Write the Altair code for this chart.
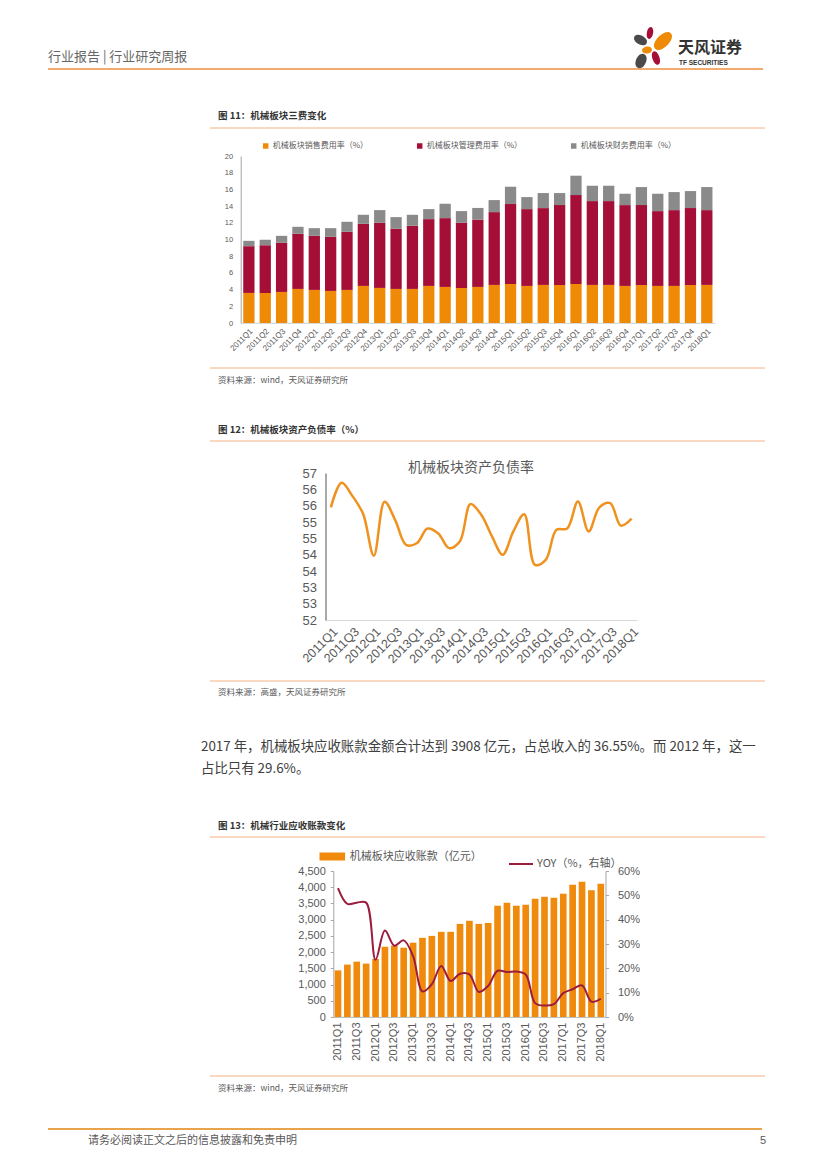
import altair as alt
import pandas as pd

FONT = "Liberation Sans, Noto Sans CJK SC"
CJK = "Noto Sans CJK SC"
GRAY = "#595959"

quarters = ["2011Q1", "2011Q2", "2011Q3", "2011Q4", "2012Q1", "2012Q2", "2012Q3", "2012Q4",
            "2013Q1", "2013Q2", "2013Q3", "2013Q4", "2014Q1", "2014Q2", "2014Q3", "2014Q4",
            "2015Q1", "2015Q2", "2015Q3", "2015Q4", "2016Q1", "2016Q2", "2016Q3", "2016Q4",
            "2017Q1", "2017Q2", "2017Q3", "2017Q4", "2018Q1"]
quarters_every2 = ["2011Q1", "2011Q3", "2012Q1", "2012Q3", "2013Q1", "2013Q3", "2014Q1", "2014Q3",
                   "2015Q1", "2015Q3", "2016Q1", "2016Q3", "2017Q1", "2017Q3", "2018Q1"]

# Figure 11: expense ratios (%)
series11 = ["机械板块销售费用率（%）", "机械板块管理费用率（%）", "机械板块财务费用率（%）"]
colors11 = ["#EF8A06", "#A50E36", "#8A8A8A"]
sales_ratio = [3.60, 3.60, 3.72, 4.08, 3.96, 3.84, 3.96, 4.44, 4.20, 4.08, 4.08, 4.44, 4.32, 4.20, 4.32,
               4.56, 4.68, 4.44, 4.56, 4.56, 4.68, 4.56, 4.56, 4.44, 4.56, 4.44, 4.44, 4.56, 4.56]
mgmt_ratio = [5.60, 5.72, 5.88, 6.60, 6.48, 6.48, 6.96, 7.44, 7.80, 7.20, 7.56, 8.00, 8.24, 7.80, 8.06,
              8.72, 9.56, 9.20, 9.20, 9.56, 10.64, 10.04, 10.04, 9.68, 9.56, 8.96, 9.08, 9.20, 8.96]
fin_ratio = [0.64, 0.64, 0.84, 0.84, 0.92, 1.04, 1.20, 1.08, 1.52, 1.40, 1.32, 1.20, 1.72, 1.40, 1.40,
             1.44, 2.08, 1.44, 1.80, 1.44, 2.32, 1.84, 1.84, 1.36, 2.16, 2.08, 2.16, 2.04, 2.76]
ticks11 = [0, 2, 4, 6, 8, 10, 12, 14, 16, 18, 20]

# Figure 12: debt-to-asset ratio (%)
debt_ratio = [55.45, 56.20, 55.80, 55.25, 53.97, 55.62, 55.05, 54.30, 54.35, 54.80, 54.65, 54.20, 54.40,
              55.55, 55.22, 54.56, 54.00, 54.72, 55.24, 53.69, 53.84, 54.76, 54.80, 55.63, 54.71, 55.45,
              55.58, 54.89, 55.10]
ticks12 = [52.0, 52.5, 53.0, 53.5, 54.0, 54.5, 55.0, 55.5, 56.0, 56.5]

# Figure 13: receivables (100m CNY) and YoY (%)
bar13_name = "机械板块应收账款（亿元）"
line13_name = "YOY（%，右轴）"
receivables = [1437, 1615, 1707, 1645, 1790, 2165, 2200, 2136, 2290, 2440, 2500, 2625, 2625, 2870, 2965,
               2870, 2900, 3430, 3520, 3430, 3460, 3645, 3705, 3675, 3800, 4075, 4165, 3908, 4105]
yoy = [53.0, 46.5, 47.0, 47.0, 23.5, 35.5, 29.3, 31.5, 25.0, 10.5, 13.5, 21.0, 14.8, 17.8, 17.5,
       10.3, 12.8, 19.0, 18.5, 18.7, 17.5, 5.7, 4.7, 5.3, 9.8, 11.4, 13.0, 6.3, 7.5]
ticks13_left = [0, 500, 1000, 1500, 2000, 2500, 3000, 3500, 4000, 4500]
ticks13_right = [0, 10, 20, 30, 40, 50, 60]

# ---------------- page decoration ----------------
one = pd.DataFrame({"v": [0]})
base = alt.Chart(one)
OX, OY = 8, 8  # page origin of the chart


def txt(s, x, y, size, color=GRAY, weight="normal", align="left", font=CJK):
    return base.mark_text(text=s, align=align, baseline="middle", fontSize=size, color=color,
                          fontWeight=weight, font=font).encode(x=alt.value(x - OX), y=alt.value(y - OY))


def hrule(x1, x2, y, color, w):
    return base.mark_rule(color=color, strokeWidth=w).encode(
        x=alt.value(x1 - OX), x2=alt.value(x2 - OX), y=alt.value(y - OY))


def petal(x, y, size, angle, color, c=0.55):
    path = f"M0,-1C{c},-1 {c},1 0,1C-{c},1 -{c},-1 0,-1Z"
    return base.mark_point(shape=path, filled=True, size=size, angle=angle % 360, color=color,
                           opacity=1, strokeWidth=0).encode(x=alt.value(x - OX), y=alt.value(y - OY))


SEC = "#F4B183"
decor = alt.layer(
    txt("行业报告 | 行业研究周报", 48, 57, 13, "#666666"),
    hrule(48, 763, 69, "#EE8F3C", 1.6),
    petal(650, 33, 144, 10, "#A50E36", 0.7),
    petal(640.5, 40, 196, -60, "#4A4A4A", 0.86),
    petal(663, 41, 484, 45, "#EF8A06", 0.73),
    petal(647, 50, 100, 80, "#EF8A06", 0.93),
    petal(641, 61, 225, 25, "#4A4A4A", 0.89),
    petal(656, 58, 196, -20, "#A50E36", 0.67),
    txt("天风证券", 678, 48, 16, "#333333", "bold"),
    txt("TF SECURITIES", 679, 63, 6.5, "#333333", "bold", font=FONT),
    txt("图 11：机械板块三费变化", 218, 116, 9.5, "#333333", "bold"),
    hrule(210, 765, 128, SEC, 1),
    hrule(210, 765, 368, SEC, 1),
    txt("资料来源：wind，天风证券研究所", 218, 380, 8.5),
    txt("图 12：机械板块资产负债率（%）", 218, 430, 9.5, "#333333", "bold"),
    hrule(210, 765, 441, SEC, 1),
    txt("机械板块资产负债率", 471, 468, 14, GRAY, "normal", "center"),
    hrule(210, 765, 681, SEC, 1),
    txt("资料来源：高盛，天风证券研究所", 218, 692, 8.5),
    txt("2017 年，机械板块应收账款金额合计达到 3908 亿元，占总收入的 36.55%。而 2012 年，这一",
        201, 747, 13.4, "#404040"),
    txt("占比只有 29.6%。", 201, 769, 13.4, "#404040"),
    txt("图 13：机械行业应收账款变化", 218, 826, 9.5, "#333333", "bold"),
    hrule(210, 765, 837, SEC, 1),
    hrule(210, 765, 1076, SEC, 1),
    txt("资料来源：wind，天风证券研究所", 218, 1088, 8.5),
    hrule(48, 762, 1129, "#E9A34A", 2.2),
    txt("请务必阅读正文之后的信息披露和免责申明", 88, 1141, 11, "#595959"),
    txt("5", 760, 1141, 11, "#595959", font=FONT),
).properties(width=811, height=148)


def spacer(w, h):
    return base.mark_text(text="").encode(x=alt.value(0), y=alt.value(0)).properties(width=w, height=h)


# plot areas in page pixels: (left, right)
L11, R11 = 240.7, 715.0
L12, R12 = 325.5, 637.0
L13, R13 = 333.3, 605.5

# ---------------- figure 11 ----------------
rows = []
for k, (name, vals) in enumerate(zip(series11, [sales_ratio, mgmt_ratio, fin_ratio])):
    for q, v in zip(quarters, vals):
        rows.append({"q": q, "series": name, "value": v, "ord": k})
df11 = pd.DataFrame(rows)

chart11 = alt.Chart(df11).mark_bar().encode(
    x=alt.X("q:N", sort=quarters, scale=alt.Scale(paddingInner=0.31, range=[L11 - OX, R11 - OX]),
            axis=alt.Axis(title=None, labelAngle=-45, labelFontSize=8, labelColor=GRAY, labelFont=FONT,
                          ticks=False, domainColor="#D9D9D9", labelPadding=4)),
    y=alt.Y("value:Q", stack="zero", scale=alt.Scale(domain=[0, 20], nice=False),
            axis=alt.Axis(title=None, values=ticks11, grid=False, ticks=False, labelFontSize=7.5,
                          labelColor=GRAY, labelFont=FONT, domainColor="#A6A6A6", labelPadding=8,
                          offset=-(L11 - OX))),
    color=alt.Color("series:N", scale=alt.Scale(domain=series11, range=colors11),
                    legend=alt.Legend(title=None, orient="none", legendX=L11 - OX + 21, legendY=-14,
                                      direction="horizontal", symbolType="square", symbolSize=30,
                                      labelFontSize=8, labelColor=GRAY, labelFont=CJK,
                                      columnPadding=47, labelOffset=3)),
    order=alt.Order("ord:Q"),
).properties(width=R11 - OX, height=167)

# ---------------- figure 12 ----------------
df12 = pd.DataFrame({"q": quarters, "v": debt_ratio})
chart12 = alt.Chart(df12).mark_line(interpolate="catmull-rom", color="#EF921F", strokeWidth=2.5).encode(
    x=alt.X("q:O", sort=quarters, scale=alt.Scale(type="point", padding=0.5, range=[L12 - OX, R12 - OX]),
            axis=alt.Axis(title=None, values=quarters_every2, labelAngle=-45, labelFontSize=12.5,
                          labelColor=GRAY, labelFont=FONT, ticks=False, domainColor="#D9D9D9",
                          labelPadding=5)),
    y=alt.Y("v:Q", scale=alt.Scale(domain=[52, 56.5], nice=False, zero=False),
            axis=alt.Axis(title=None, values=ticks12, labelExpr="round(datum.value)", grid=False,
                          ticks=False, labelFontSize=13, labelColor=GRAY, labelFont=FONT,
                          domainColor="#8C8C8C", domainWidth=1.5, labelPadding=9,
                          offset=-(L12 - OX))),
).properties(width=R12 - OX, height=147)

# ---------------- figure 13 ----------------
df13 = pd.DataFrame({"q": quarters, "rec": receivables, "yoy": yoy,
                     "s": [bar13_name] * len(quarters), "s2": [line13_name] * len(quarters)})
xq13 = alt.X("q:N", sort=quarters, scale=alt.Scale(paddingInner=0.29, range=[L13 - OX, R13 - OX]),
             axis=alt.Axis(title=None, values=quarters_every2, labelAngle=-90, labelFontSize=11,
                           labelColor=GRAY, labelFont=FONT, ticks=False, domainColor="#BFBFBF",
                           labelPadding=5))
bars13 = alt.Chart(df13).mark_bar().encode(
    x=xq13,
    y=alt.Y("rec:Q", scale=alt.Scale(domain=[0, 4500], nice=False),
            axis=alt.Axis(title=None, values=ticks13_left, format=",.0f", grid=False, tickSize=3,
                          tickColor="#A6A6A6", labelFontSize=11, labelColor=GRAY, labelFont=FONT,
                          domainColor="#A6A6A6", labelPadding=5, orient="left", offset=-(L13 - OX))),
    color=alt.Color("s:N", scale=alt.Scale(domain=[bar13_name], range=["#F08A0C"]),
                    legend=alt.Legend(title=None, orient="none", legendX=L13 - OX - 6.5, legendY=-20,
                                      symbolType="M-3.2,-1H3.2V1H-3.2Z", symbolSize=64,
                                      labelFontSize=11, labelColor=GRAY, labelFont=CJK, labelOffset=12)),
)
line13 = alt.Chart(df13).mark_line(interpolate="catmull-rom", strokeWidth=2).encode(
    x=xq13,
    y=alt.Y("yoy:Q", scale=alt.Scale(domain=[0, 60], nice=False),
            axis=alt.Axis(title=None, values=ticks13_right, labelExpr="datum.value + '%'", grid=False,
                          tickSize=3, tickColor="#A6A6A6", labelFontSize=11, labelColor=GRAY,
                          labelFont=FONT, domainColor="#A6A6A6", labelPadding=9, orient="right")),
    stroke=alt.Stroke("s2:N", scale=alt.Scale(domain=[line13_name], range=["#9B1C3C"]),
                      legend=alt.Legend(title=None, orient="none", legendX=L13 - OX + 174.7, legendY=-20,
                                        symbolType="stroke", symbolSize=576, symbolStrokeWidth=2,
                                        labelFontSize=11, labelColor=GRAY, labelFont=CJK, labelOffset=3)),
)
chart13 = alt.layer(bars13, line13).resolve_scale(y="independent").properties(width=R13 - OX, height=146)

# ---------------- page layout: single column, flush bounds ----------------
chart = alt.vconcat(
    decor, chart11, spacer(811, 150), chart12, spacer(811, 251), chart13,
    spacing=0, bounds="flush",
).resolve_scale(color="independent", stroke="independent").resolve_legend(
    color="independent", stroke="independent"
).properties(padding=0).configure_view(strokeWidth=0)

chart.save("out.html", embed_options={"renderer": "svg", "actions": False})
